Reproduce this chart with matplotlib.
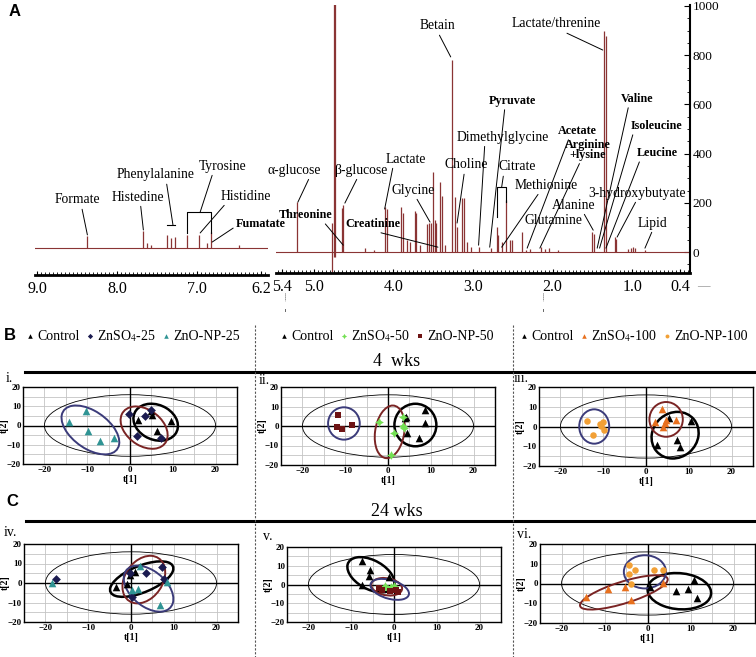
import numpy as np
import matplotlib.pyplot as plt
from matplotlib.patches import Ellipse
from matplotlib.lines import Line2D
from matplotlib.ticker import MultipleLocator

plt.rcParams['font.family'] = ['Liberation Serif', 'DejaVu Serif']
plt.rcParams['mathtext.fontset'] = 'stix'

# ---------------- 1H NMR spectrum (ppm, intensity) ----------------
arom_ppm = [8.37, 7.67, 7.63, 7.58, 7.37, 7.32, 7.27, 7.12, 6.98, 6.88, 6.83, 6.47]
arom_int = [49, 69, 20, 12, 53, 41, 45, 53, 53, 20, 65, 12]

aliph_ppm = [5.21, 4.65, 4.63, 4.36, 4.25, 4.11, 4.085, 3.90, 3.88, 3.83, 3.79, 3.73, 3.71, 3.67,
             3.58, 3.55, 3.53, 3.50, 3.48, 3.46, 3.42, 3.39, 3.35, 3.27, 3.23, 3.20, 3.14, 3.11,
             3.08, 3.03, 2.92, 2.78, 2.70, 2.68, 2.64, 2.58, 2.54, 2.51, 2.38, 2.33, 2.29, 2.14,
             2.10, 2.04, 1.93, 1.50, 1.48, 1.35, 1.33, 1.22, 1.20, 1.05, 1.01, 0.99, 0.97, 0.84]
aliph_int = [203, 180, 190, 15, 10, 183, 175, 183, 160, 50, 40, 165, 160, 30,
             115, 118, 120, 325, 130, 120, 285, 228, 30, 780, 224, 100, 220, 220,
             40, 20, 20, 15, 100, 70, 40, 210, 50, 50, 80, 10, 12, 20,
             12, 15, 10, 80, 75, 900, 880, 60, 55, 12, 18, 20, 15, 10]

water_ppm = [4.77, 4.75, 4.73]
water_lo = [-80, -20, -20]
water_hi = [118, 1100, 1100]

# metabolite labels: name, peak tip (ppm, intensity)
arom_names = ['Formate', 'Histedine', 'Phenylalanine', 'Tyrosine', 'Histidine', 'Fumatate']
arom_tips = [(8.37, 53), (7.67, 73), (7.30, 93), (6.96, 146), (6.96, 61), (6.81, 24)]

aliph_names = ['α-glucose', 'Threonine', 'β-glucose', 'Creatinine', 'Lactate', 'Glycine', 'Betain',
               'Choline', 'Dimethylglycine', 'Pyruvate', 'Citrate', 'Methionine', 'Acetate',
               'Arginine\n+lysine', 'Alanine', 'Lactate/threnine', 'Valine', 'Isoleucine',
               'Leucine', '3-hydroxybutyate', 'Lipid']
aliph_tips = [(5.20, 203), (4.63, 28), (4.61, 199), (3.44, 20), (4.11, 175), (3.54, 122),
              (3.28, 793), (3.20, 118), (2.93, 28), (2.79, 20), (2.64, 264), (2.64, 20),
              (2.32, 16), (2.16, 16), (1.49, 89), (1.37, 821), (1.44, 16), (1.41, 16),
              (1.33, 16), (1.19, 61), (0.84, 16)]

# ---------------- PCA score plots: (t[1], t[2]) ----------------
# 4 wks
i_ctl = [[1.9, 5.0, 5.2, 6.2, 9.6], [2.6, 7.6, 5.7, -2.6, 2.3]]
i_zs = [[-0.2, 3.5, 1.7, 7.2, 5.0], [6.1, 4.9, -5.2, -6.4, 8.2]]
i_np = [[-14.2, -10.2, -9.8, -6.9, -3.8], [1.7, 7.3, -2.6, -7.8, -6.6]]
ii_ctl = [[4.1, 8.6, 8.6, 4.5, 7.3, 3.9], [4.7, 8.3, 1.7, -3.5, -6.4, 4.0]]
ii_zs = [[-2.1, 3.5, 1.4, 0.6, 3.8, 3.6], [2.3, 0.0, -3.5, -15.1, -0.9, 4.5]]
ii_np = [[-11.6, -11.9, -10.8, -8.4], [5.7, -0.5, -1.7, 0.5]]
iii_ctl = [[5.3, 10.5, 7.2, 8.0, 2.6], [4.5, 2.9, -6.6, -10.3, -9.4]]
iii_zs = [[3.7, 2.2, 4.0, 4.7, 7.1, 4.5], [8.7, 2.4, -0.2, 3.5, 3.2, 1.8]]
iii_np = [[-13.9, -10.0, -10.5, -9.9, -12.5, -10.7], [2.9, 2.4, 0.3, -1.8, -4.4, 1.5]]
# 24 wks
iv_ctl = [[-3.5, -1.0, 1.0, -0.3], [-2.0, -0.5, 5.6, 4.0]]
iv_zs = [[-17.6, -0.2, 3.6, 7.3, 0.2, 7.6], [2.2, 5.0, 4.9, 8.1, -7.1, 1.8]]
iv_np = [[-18.5, 2.0, 0.3, 1.7, 6.8, 8.4], [0.0, 8.6, -3.6, -3.0, -11.2, 0.6]]
v_ctl = [[-7.4, -5.7, -5.8, -7.4, -1.2], [12.4, 7.5, 4.5, -0.5, 3.8]]
v_zs = [[-2.0, -0.8, -1.5, 0.0], [-1.0, -1.5, -2.5, -0.8]]
v_np = [[-3.5, -2.8, 0.5, 1.0, -1.0], [-1.8, -3.0, -2.8, -3.8, -3.5]]
vi_ctl = [[0.6, 6.6, 9.5, 10.9, 11.5], [-2.0, -3.9, -2.9, 2.0, -7.1]]
vi_zs = [[-14.3, -9.1, -5.3, -3.9, 3.7], [-6.7, -2.9, -2.0, -8.4, 0.3]]
vi_np = [[-4.3, -2.9, 1.6, 3.5, -3.9, -4.3], [5.0, 6.7, 6.7, 6.7, 0.0, 9.2]]

# group ellipses: centre x, centre y, half-range x, half-range y, correlation
i_ell = [[6.0, 1.7, 5.2, 9.6, -0.2], [3.3, -1.1, 5.5, 11.0, -0.35], [-9.25, -2.3, 6.75, 12.7, -0.5]]
ii_ell = [[6.4, 0.5, 4.9, 10.9, 0.0], [0.4, -3.0, 3.5, 13.5, 0.2], [-10.3, 1.3, 3.7, 8.3, 0.0]]
iii_ell = [[6.8, -4.4, 5.5, 11.8, 0.1], [4.7, 3.6, 3.9, 8.8, 0.0], [-12.1, 0.0, 3.5, 8.7, 0.0]]
iv_ell = [[2.5, 2.0, 7.4, 9.1, 0.6], [3.0, 1.75, 5.0, 12.2, 0.3], [4.1, -2.9, 5.8, 11.8, -0.45]]
v_ell = [[-5.4, 5.2, 5.5, 9.4, -0.45], [-1.7, -1.2, 3.6, 4.7, -0.2], [-1.0, -2.6, 4.5, 5.6, -0.4]]
vi_ell = [[7.4, -3.9, 7.4, 9.2, -0.1], [-5.5, -4.5, 10.2, 8.7, 0.75], [-0.6, 5.9, 4.9, 8.4, 0.0]]
hotelling = [0.0, 0.0, 20.0, 16.0, 0.0]

legend_labels = [['Control', 'ZnSO$_4$-25', 'ZnO-NP-25'],
                 ['Control', 'ZnSO$_4$-50', 'ZnO-NP-50'],
                 ['Control', 'ZnSO$_4$-100', 'ZnO-NP-100']]

W, H = 756, 657
SPEC = '#8A3434'
fig = plt.figure(figsize=(W / 100, H / 100), dpi=100)


def add_ax(x0, y0, x1, y1):
    # axes from pixel box (top-left origin)
    return fig.add_axes([x0 / W, 1 - y1 / H, (x1 - x0) / W, (y1 - y0) / H])


def label(ax, name, tip, pos, rel, bold=False):
    fs = 8.7 if bold else 9.8
    fw = 'bold' if bold else 'normal'
    if tip is None:
        ax.text(pos[0], pos[1], name, ha='center', va='center', fontsize=fs, fontweight=fw)
        return
    ax.annotate(name, xy=tip, xytext=pos, ha='center', va='center', fontsize=fs, fontweight=fw,
                linespacing=0.75, annotation_clip=False,
                arrowprops=dict(arrowstyle='-', lw=0.7, color='black', shrinkA=0, shrinkB=0, relpos=rel))


# ---------- panel A: spectrum ----------
axL = add_ax(35, 5, 268, 275)
axL.set_xlim(9.025, 6.112)
axL.set_ylim(-110, 988)
axL.axhline(0, color=SPEC, lw=0.8)
axL.vlines(arom_ppm, 0, arom_int, color=SPEC, lw=0.9)

axR = add_ax(276, 5, 690, 273)
axR.set_xlim(5.475, 0.274)
axR.set_ylim(-85, 1004)
axR.axhline(0, color=SPEC, lw=0.8)
axR.vlines(aliph_ppm, 0, aliph_int, color=SPEC, lw=0.9)
axR.vlines(water_ppm, water_lo, water_hi, color=SPEC, lw=0.9)

for ax, ticks in ((axL, [9.0, 8.0, 7.0, 6.2]), (axR, [5.4, 5.0, 4.0, 3.0, 2.0, 1.0, 0.4])):
    for s in ('top', 'left', 'right'):
        ax.spines[s].set_visible(False)
    ax.spines['bottom'].set_linewidth(2.0)
    ax.set_xticks(ticks)
    ax.set_xticklabels([f'{t:.1f}' for t in ticks])
    ax.xaxis.set_minor_locator(MultipleLocator(0.05))
    ax.tick_params(axis='x', which='major', direction='in', length=3, labelsize=11.5, pad=4)
    ax.tick_params(axis='x', which='minor', direction='in', length=2)
    ax.set_facecolor('none')
axL.set_yticks([])

axR.spines['right'].set_visible(True)
axR.spines['right'].set_linewidth(1.5)
axR.yaxis.tick_right()
axR.set_yticks(range(0, 1001, 200))
axR.yaxis.set_minor_locator(MultipleLocator(50))
axR.tick_params(axis='y', which='major', direction='in', length=4, labelsize=9.5, pad=2)
axR.tick_params(axis='y', which='minor', direction='in', length=2)

# label text placement (ppm, intensity) and leader anchor on the text box
arom_pos = [(8.50, 195), (7.74, 207), (7.52, 297), (6.68, 333), (6.39, 211), (6.20, 98)]
arom_rel = [(0.6, 0), (0.55, 0), (0.64, 0), (0.3, 0), (0.12, 0), (0.0, 0.3)]
arom_bold = [False, False, False, False, False, True]
for n, t, p, r, b in zip(arom_names, arom_tips, arom_pos, arom_rel, arom_bold):
    label(axL, n, t, p, r, b)
# Phenylalanine bar, Tyrosine bracket
axL.plot([arom_ppm[4], arom_ppm[6]], [93, 93], color='black', lw=0.8)
axL.plot([arom_ppm[7], arom_ppm[7], arom_ppm[10], arom_ppm[10]], [61, 146, 146, 61], color='black', lw=0.8)

aliph_pos = [(5.25, 333), (5.10, 150), (4.41, 333), (4.26, 114), (3.85, 378), (3.75, 252), (3.44, 919),
             (3.08, 354), (2.62, 467), (2.51, 614), (2.45, 346), (2.08, 272), (1.69, 492), (1.56, 415),
             (1.73, 191), (1.95, 927), (0.94, 622), (0.69, 512), (0.69, 402), (0.94, 240), (0.74, 118)]
aliph_rel = [(0.8, 0), (0.8, 0.1), (0.45, 0), (0.45, 0), (0.2, 0), (0.55, 0), (0.5, 0),
             (0.45, 0), (0.3, 0), (0.35, 0), (0.15, 0), (0.4, 0), (0.3, 0), (0.35, 0),
             (0.7, 0), (0.55, 0), (0.25, 0), (0.05, 0), (0.1, 0), (0.5, 0), (0.5, 0)]
aliph_bold = [False, True, False, True, False, False, False, False, False, True, False, False, True,
              True, False, False, True, True, True, False, False]
for n, t, p, r, b in zip(aliph_names, aliph_tips, aliph_pos, aliph_rel, aliph_bold):
    label(axR, n, t, p, r, b)
label(axR, 'Glutamine', None, (1.99, 130), None)
# Citrate bracket
axR.plot([2.70, 2.70, 2.58, 2.58], [142, 264, 264, 203], color='black', lw=0.8)

fig.text(15 / W, 1 - 12 / H, 'A', fontsize=12, fontweight='bold', family='Liberation Sans', ha='center', va='center')
fig.text(703 / W, 1 - 286 / H, '—', fontsize=9, color='#888888', ha='center', va='center')
for xb in (285, 543):
    fig.add_artist(Line2D([xb / W] * 2, [1 - 293 / H, 1 - 301 / H], color='#666666', lw=0.7, ls=(0, (1, 1))))
    fig.add_artist(Line2D([xb / W] * 2, [1 - 309 / H, 1 - 311 / H], color='#666666', lw=0.7))


# ---------- panels B and C: PCA score plots ----------
def cov_ellipse(ax, e, color, lw):
    cx, cy, rx, ry, rho = e
    cov = np.array([[rx ** 2, rho * rx * ry], [rho * rx * ry, ry ** 2]])
    vals, vecs = np.linalg.eigh(cov)
    ang = np.degrees(np.arctan2(vecs[1, 1], vecs[0, 1]))
    ax.add_patch(Ellipse((cx, cy), 2 * np.sqrt(vals[1]), 2 * np.sqrt(vals[0]), angle=ang,
                         fill=False, edgecolor=color, lw=lw, zorder=3))


ELL_COLORS = ['black', '#7A2424', '#3B3B7A']
ELL_LW = [1.8, 1.4, 1.4]
col_styles = [
    [dict(marker='^', color='black', s=30), dict(marker='D', color='#1B1B50', s=20), dict(marker='^', color='#2F9494', s=30)],
    [dict(marker='^', color='black', s=30), dict(marker=(4, 1, 0), color='#74E054', s=40), dict(marker='s', color='#6E1414', s=22)],
    [dict(marker='^', color='black', s=30), dict(marker='^', color='#E8701E', s=30), dict(marker='o', color='#F2A035', s=22)],
]
panels = [
    ('i.', (23, 387, 237, 464), (6, 379), 0, [i_ctl, i_zs, i_np], i_ell),
    ('ii.', (281, 387, 495, 465), (259, 380), 1, [ii_ctl, ii_zs, ii_np], ii_ell),
    ('iii.', (539, 387, 753, 466), (514, 379), 2, [iii_ctl, iii_zs, iii_np], iii_ell),
    ('iv.', (24, 544, 238, 622), (4, 532), 0, [iv_ctl, iv_zs, iv_np], iv_ell),
    ('v.', (287, 547, 501, 622), (263, 537), 1, [v_ctl, v_zs, v_np], v_ell),
    ('vi.', (540, 544, 755, 623), (517, 535), 2, [vi_ctl, vi_zs, vi_np], vi_ell),
]
legend_handles = {}
for tag, box, tagpos, col, groups, ells in panels:
    ax = add_ax(*box)
    ax.set_xlim(-25, 25)
    ax.set_ylim(-20, 20)
    ax.set_xticks([-20, -10, 0, 10, 20])
    ax.set_yticks([-20, -10, 0, 10, 20])
    ax.xaxis.set_minor_locator(MultipleLocator(5))
    ax.yaxis.set_minor_locator(MultipleLocator(5))
    ax.grid(True, which='both', color='#C4C4C4', lw=0.6)
    ax.set_axisbelow(True)
    ax.axhline(0, color='black', lw=1.0, zorder=1)
    ax.axvline(0, color='black', lw=1.0, zorder=1)
    ax.tick_params(which='both', length=0, labelsize=6.5, pad=1.5)
    for lab in ax.get_xticklabels() + ax.get_yticklabels():
        lab.set_fontweight('bold')
    ax.set_xlabel('t[1]', fontsize=7, fontweight='bold', labelpad=1)
    ax.set_ylabel('t[2]', fontsize=7, fontweight='bold')
    ax.yaxis.set_label_coords(-14 / (box[2] - box[0]), 0.5)
    for s in ax.spines.values():
        s.set_linewidth(1.0)
    cov_ellipse(ax, hotelling, 'black', 0.6)
    for e, c, lw in zip(ells, ELL_COLORS, ELL_LW):
        cov_ellipse(ax, e, c, lw)
    hs = []
    for g, st in zip(groups, col_styles[col]):
        hs.append(ax.scatter(g[0], g[1], zorder=4, linewidths=0, **st))
    legend_handles.setdefault(col, hs)
    fig.text(tagpos[0] / W, 1 - tagpos[1] / H, tag, fontsize=10, ha='left', va='center')

for col, cx in zip(range(3), (133, 387, 634)):
    fig.legend(legend_handles[col], legend_labels[col], loc='center', bbox_to_anchor=(cx / W, 1 - 336 / H),
               ncol=3, frameon=False, fontsize=10, handlelength=0.5, handletextpad=0.25,
               columnspacing=0.5, borderpad=0, borderaxespad=0, markerscale=0.6)

fig.text(10 / W, 1 - 336 / H, 'B', fontsize=12, fontweight='bold', family='Liberation Sans', ha='center', va='center')
fig.text(12 / W, 1 - 502 / H, 'C', fontsize=12, fontweight='bold', family='Liberation Sans', ha='center', va='center')
fig.text(397 / W, 1 - 362 / H, '4  wks', fontsize=13, ha='center', va='center')
fig.text(397 / W, 1 - 511 / H, '24 wks', fontsize=13, ha='center', va='center')
for yl, x0 in ((372, 25), (521, 26)):
    fig.add_artist(Line2D([x0 / W, 1], [1 - yl / H] * 2, color='black', lw=2.2))
for xs in (255, 513):
    fig.add_artist(Line2D([xs / W] * 2, [1 - 325 / H, 0], color='#555555', lw=0.8, ls=(0, (2, 1.5))))

fig.savefig('out.png', dpi=100)
